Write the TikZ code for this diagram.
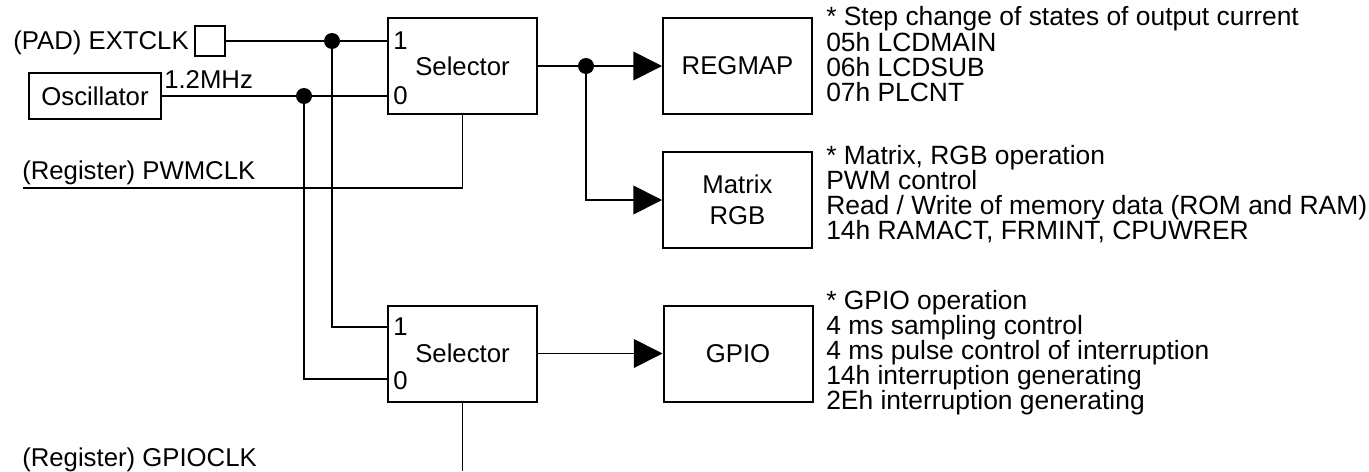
\documentclass[tikz,border=0pt]{standalone}
\usepackage{fontspec}
\setmainfont{Liberation Sans}
\usetikzlibrary{arrows.meta}
\newcommand\dfont{\fontsize{19.3pt}{23pt}\selectfont}
\newcommand\rfont{\fontsize{19.8pt}{23pt}\selectfont}
\tikzset{
  box/.style={draw, line width=1.5pt, inner sep=0pt, minimum width=111.75pt, minimum height=72pt, align=center, font=\dfont},
  wire/.style={line width=1.3pt},
  arr/.style={wire, -{Triangle[length=21.5pt,width=21.5pt]}},
  dot/.style={circle, fill, inner sep=0pt, minimum size=12pt},
  txt/.style={anchor=base west, inner sep=0pt, font=\dfont},
  rtxt/.style={anchor=base east, inner sep=0pt, font=\dfont},
  desc/.style={anchor=base west, inner sep=0pt, font=\rfont},
}
\begin{document}
\begin{tikzpicture}[x=0.75pt,y=-0.75pt]
\useasboundingbox (0,0) rectangle (1369,471);
% blocks
\node[box] (sel1) at (462.5,66) {Selector};
\node[box] (sel2) at (462.5,353.5) {Selector};
\node[box] (reg) at (737.5,66) {REGMAP};
\node[box] (mat) at (737.5,200) {Matrix\\RGB};
\node[box] (gpio) at (738,353.5) {GPIO};
\node[box, minimum width=99pt, minimum height=34.5pt] (osc) at (95,96) {Oscillator};
\node[draw, line width=1.3pt, inner sep=0pt, minimum width=22.5pt, minimum height=23pt] (ext) at (210,41) {};
% pin labels
\node[txt] (p11) at (393,49) {1};
\node[txt] (p10) at (393,104) {0};
\node[txt] (p21) at (393,335) {1};
\node[txt] (p20) at (393,389) {0};
% input labels
\node[rtxt] (extl) at (189,49) {(PAD) EXTCLK};
\node[txt] (freq) at (164,88) {1.2MHz};
\node[txt] (pwml) at (22,179) {(Register) PWMCLK};
\node[txt] (gpiol) at (22,466) {(Register) GPIOCLK};
% pins and free ends
\coordinate (s1i1) at (388,41);
\coordinate (s1i0) at (388,96);
\coordinate (s2i1) at (388,327);
\coordinate (s2i0) at (388,379);
\coordinate (pwmend) at (23,188);
\coordinate (gpioend) at (462.5,471);
% dots
\node[dot] (d1) at (332,41) {};
\node[dot] (d2) at (304,96) {};
\node[dot] (d3) at (586,66) {};
% wires
\draw[wire] (ext.east) -- (d1.center) -- (s1i1);
\draw[wire] (osc.east) -- (d2.center) -- (s1i0);
\draw[wire] (d1.center) |- (s2i1);
\draw[wire] (d2.center) |- (s2i0);
\draw[wire] (pwmend) -| (sel1.south);
\draw[wire] (sel2.south) -- (gpioend);
\draw[wire] (sel1.east) -- (d3.center);
\draw[arr] (d3.center) -- (reg.west);
\draw[arr] (d3.center) |- (mat.west);
\draw[arr] (sel2.east) -- (gpio.west);
% descriptions
\node[desc] (t11) at (826,26) {* Step change of states of output current};
\node[desc] (t12) at (826,51) {05h LCDMAIN};
\node[desc] (t13) at (826,76) {06h LCDSUB};
\node[desc] (t14) at (826,101) {07h PLCNT};
\node[desc] (t21) at (826,164) {* Matrix, RGB operation};
\node[desc] (t22) at (826,189) {PWM control};
\node[desc] (t23) at (826,214) {Read / Write of memory data (ROM and RAM)};
\node[desc] (t24) at (826,239) {14h RAMACT, FRMINT, CPUWRER};
\node[desc] (t31) at (826,309) {* GPIO operation};
\node[desc] (t32) at (826,334) {4 ms sampling control};
\node[desc] (t33) at (826,359) {4 ms pulse control of interruption};
\node[desc] (t34) at (826,384) {14h interruption generating};
\node[desc] (t35) at (826,409) {2Eh interruption generating};
\end{tikzpicture}
\end{document}
